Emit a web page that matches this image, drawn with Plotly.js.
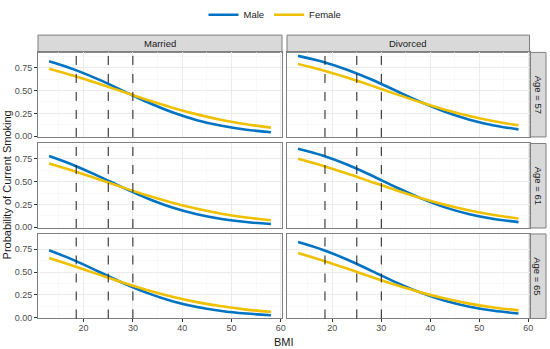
<!DOCTYPE html>
<html>
<head>
<meta charset="utf-8">
<script src="https://cdn.plot.ly/plotly-3.0.1.min.js"></script>
<style>html,body{margin:0;padding:0;background:#fff}#chart{width:550px;height:349px}</style>
</head>
<body>
<div id="chart"></div>
<script>
// ---- data ----
const bmi = [13, 18, 23, 28, 33, 38, 43, 48, 53, 58];
const statuses = ["Married", "Divorced"];
const ages = [57, 61, 65];
const cutoffs = [18.5, 25, 30];

const maleMarried57   = [0.82, 0.732, 0.622, 0.497, 0.372, 0.262, 0.176, 0.114, 0.071, 0.044];
const femaleMarried57 = [0.74, 0.663, 0.577, 0.486, 0.396, 0.312, 0.239, 0.178, 0.131, 0.094];
const maleDivorced57   = [0.88, 0.816, 0.729, 0.621, 0.498, 0.376, 0.267, 0.181, 0.118, 0.075];
const femaleDivorced57 = [0.79, 0.722, 0.642, 0.554, 0.461, 0.372, 0.290, 0.220, 0.163, 0.119];

const maleMarried61   = [0.78, 0.680, 0.561, 0.434, 0.316, 0.217, 0.143, 0.091, 0.057, 0.035];
const femaleMarried61 = [0.70, 0.617, 0.527, 0.435, 0.347, 0.268, 0.202, 0.149, 0.108, 0.077];
const maleDivorced61   = [0.86, 0.786, 0.687, 0.567, 0.439, 0.319, 0.218, 0.143, 0.091, 0.056];
const femaleDivorced61 = [0.75, 0.675, 0.589, 0.497, 0.406, 0.321, 0.246, 0.184, 0.135, 0.097];

const maleMarried65   = [0.74, 0.631, 0.507, 0.381, 0.270, 0.182, 0.118, 0.074, 0.046, 0.028];
const femaleMarried65 = [0.655, 0.567, 0.475, 0.385, 0.301, 0.230, 0.171, 0.125, 0.089, 0.064];
const maleDivorced65   = [0.83, 0.746, 0.638, 0.514, 0.388, 0.276, 0.186, 0.121, 0.076, 0.047];
const femaleDivorced65 = [0.71, 0.628, 0.539, 0.446, 0.358, 0.278, 0.210, 0.155, 0.113, 0.081];

const male = [[maleMarried57, maleDivorced57],[maleMarried61, maleDivorced61],[maleMarried65, maleDivorced65]];
const female = [[femaleMarried57, femaleDivorced57],[femaleMarried61, femaleDivorced61],[femaleMarried65, femaleDivorced65]];

const xTicks = [20, 30, 40, 50, 60];
const yTicks = [0, 0.25, 0.5, 0.75];

// ---- styling / layout ----
const BLUE = "#0073C2", YELLOW = "#EFC000";
const W = 550, H = 349;
const colX = [[38, 282], [287, 529.5]];
const rowY = [[50.7, 135.7], [142.3, 227.3], [233.3, 318.3]];
const stripTop = 33.3;
const stripRight = [530, 546];
const px = v => v / W, py = v => 1 - v / H;

const traces = [];
const layout = {
  width: W, height: H, margin: {l: 0, r: 0, t: 0, b: 0},
  paper_bgcolor: "#fff", plot_bgcolor: "#fff",
  font: {family: "Liberation Sans, Arial, sans-serif", color: "#4D4D4D", size: 9},
  showlegend: true,
  legend: {orientation: "h", x: 0.5, xanchor: "center", y: 1.005, yanchor: "top",
           font: {size: 9.5, color: "#1A1A1A"}, itemwidth: 30, tracegroupgap: 0, bgcolor: "rgba(0,0,0,0)"},
  shapes: [], annotations: []
};

let k = 0;
for (let r = 0; r < 3; r++) {
  for (let c = 0; c < 2; c++) {
    k++;
    const xa = k === 1 ? "xaxis" : "xaxis" + k;
    const ya = k === 1 ? "yaxis" : "yaxis" + k;
    const xr = k === 1 ? "x" : "x" + k;
    const yr = k === 1 ? "y" : "y" + k;
    layout[xa] = {
      domain: [px(colX[c][0]), px(colX[c][1])], anchor: yr,
      range: [10.75, 60.25], tickvals: xTicks, ticktext: xTicks.map(String),
      showticklabels: r === 2, ticks: r === 2 ? "outside" : "", ticklen: 3, tickcolor: "#333",
      ticklabelstandoff: -2,
      showgrid: true, gridcolor: "#EBEBEB", gridwidth: 1,
      minor: {tickvals: [15, 25, 35, 45, 55], showgrid: true, gridcolor: "#F5F5F5", gridwidth: 0.6},
      zeroline: false, showline: true, mirror: true, linecolor: "#7F7F7F", linewidth: 1,
      tickfont: {size: 9, color: "#4D4D4D"}, fixedrange: true
    };
    layout[ya] = {
      domain: [py(rowY[r][1]), py(rowY[r][0])], anchor: xr,
      range: [-0.008, 0.918], tickvals: yTicks, ticktext: yTicks.map(v => v.toFixed(2)),
      showticklabels: c === 0, ticks: c === 0 ? "outside" : "", ticklen: 3, tickcolor: "#333",
      showgrid: true, gridcolor: "#EBEBEB", gridwidth: 1,
      minor: {tickvals: [0.125, 0.375, 0.625, 0.875], showgrid: true, gridcolor: "#F5F5F5", gridwidth: 0.6},
      zeroline: false, showline: true, mirror: true, linecolor: "#7F7F7F", linewidth: 1,
      tickfont: {size: 9, color: "#4D4D4D"}, fixedrange: true
    };
    // cutoff dashed lines
    cutoffs.forEach(v => layout.shapes.push({
      type: "line", xref: xr, yref: yr + " domain", x0: v, x1: v, y0: 0, y1: 1,
      line: {color: "#1A1A1A", width: 1, dash: "dash"}, layer: "above"
    }));
    traces.push({x: bmi, y: male[r][c], xaxis: xr, yaxis: yr, type: "scatter", mode: "lines",
      line: {color: BLUE, width: 2.6, shape: "spline"}, name: "Male", legendgroup: "m", showlegend: k === 1, hoverinfo: "skip"});
    traces.push({x: bmi, y: female[r][c], xaxis: xr, yaxis: yr, type: "scatter", mode: "lines",
      line: {color: YELLOW, width: 2.6, shape: "spline"}, name: "Female", legendgroup: "f", showlegend: k === 1, hoverinfo: "skip"});
  }
}

// top strips
statuses.forEach((s, c) => {
  layout.shapes.push({type: "rect", xref: "paper", yref: "paper",
    x0: px(colX[c][0]), x1: px(colX[c][1]), y0: py(rowY[0][0]), y1: py(stripTop),
    fillcolor: "#D9D9D9", line: {color: "#7F7F7F", width: 1}, layer: "below"});
  layout.annotations.push({xref: "paper", yref: "paper", x: (px(colX[c][0]) + px(colX[c][1])) / 2,
    y: (py(rowY[0][0]) + py(stripTop)) / 2, text: s, showarrow: false,
    font: {size: 9.5, color: "#1A1A1A"}, xanchor: "center", yanchor: "middle"});
});
// right strips
ages.forEach((a, r) => {
  layout.shapes.push({type: "rect", xref: "paper", yref: "paper",
    x0: px(stripRight[0]), x1: px(stripRight[1]), y0: py(rowY[r][1]), y1: py(rowY[r][0]),
    fillcolor: "#D9D9D9", line: {color: "#7F7F7F", width: 1}, layer: "below"});
  layout.annotations.push({xref: "paper", yref: "paper", x: (px(stripRight[0]) + px(stripRight[1])) / 2,
    y: (py(rowY[r][0]) + py(rowY[r][1])) / 2, text: "Age = " + a, showarrow: false, textangle: 90,
    font: {size: 9.5, color: "#1A1A1A"}, xanchor: "center", yanchor: "middle"});
});
// axis titles
layout.annotations.push({xref: "paper", yref: "paper", x: px(7), y: (py(rowY[0][0]) + py(rowY[2][1])) / 2,
  text: "Probability of Current Smoking", showarrow: false, textangle: -90,
  font: {size: 11, color: "#1A1A1A"}, xanchor: "center", yanchor: "middle"});
layout.annotations.push({xref: "paper", yref: "paper", x: (px(colX[0][0]) + px(colX[1][1])) / 2, y: py(341.5),
  text: "BMI", showarrow: false, font: {size: 11, color: "#1A1A1A"}, xanchor: "center", yanchor: "middle"});

Plotly.newPlot("chart", traces, layout, {displayModeBar: false, staticPlot: true});
</script>
</body>
</html>
